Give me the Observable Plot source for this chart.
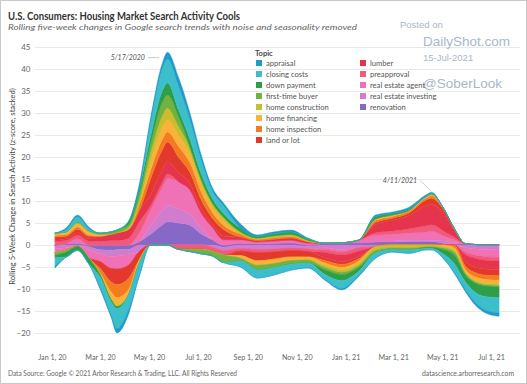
<!DOCTYPE html>
<html><head><meta charset="utf-8">
<script src="https://cdn.jsdelivr.net/npm/d3@7"></script>
<script src="https://cdn.jsdelivr.net/npm/@observablehq/plot@0.6"></script>
<style>
html,body{margin:0;padding:0;background:#fff;}
#wrap{position:relative;width:527px;height:384px;overflow:hidden;font-family:Lato,"Open Sans",sans-serif;}
#chart{position:absolute;left:0;top:0;}
#overlay{position:absolute;left:0;top:0;}
#frame{position:absolute;left:0;top:0;width:525px;height:382px;border:1px solid #c9c9c9;pointer-events:none;}
</style></head><body>
<div id="wrap">
<div id="chart"></div>
<svg id="overlay" width="527" height="384"></svg>
<div id="frame"></div>
</div>
<script>
// ---- data ----
const dates = ["2020-01-05","2020-01-19","2020-02-02","2020-02-16","2020-03-01","2020-03-15","2020-03-22","2020-04-05","2020-04-19","2020-05-03","2020-05-17","2020-05-24","2020-06-07","2020-06-21","2020-07-05","2020-07-19","2020-08-02","2020-08-23","2020-09-13","2020-10-04","2020-10-25","2020-11-15","2020-12-06","2020-12-27","2021-01-17","2021-02-07","2021-02-28","2021-03-21","2021-04-11","2021-04-18","2021-05-02","2021-05-16","2021-05-30","2021-06-13","2021-06-27","2021-07-11"];
const topics = ["appraisal","closing costs","down payment","first-time buyer","home construction","home financing","home inspection","land or lot","lumber","preapproval","real estate agent","real estate investing","renovation"];
const topicColors = ["#1f9ac9","#3cbfcb","#2e9f48","#74b23e","#cbbd2c","#fbb13a","#f47b20","#e2392c","#e6344f","#f15a7d","#ef72b6","#d07ccf","#8668c6"];
const appraisal = [-0.5,0.4,0.4,0.4,-0.5,-0.6,-1.0,-1.0,1.0,1.0,1.2,1.5,1.9,1.5,1.1,0.7,0.6,1.0,0.3,0.4,0.4,0.2,-0.2,-0.3,-0.3,0.3,0.3,0.4,0.3,0.3,-0.2,-0.2,-0.5,-0.6,-0.7,-0.8];
const closingCosts = [-1.8,0.5,1.1,0.4,-2.2,-3.0,-4.5,-3.5,-2.9,3.2,5.0,5.5,5.5,4.5,3.2,1.8,1.8,-1.4,-1.9,-1.7,-1.4,-1.1,-1.1,-1.8,-0.9,-1.2,-0.6,-0.8,-0.3,-0.3,-0.8,-2.0,-1.7,-2.4,-3.2,-3.4];
const downPayment = [-0.6,-1.1,-0.9,-1.3,-0.6,-0.5,-0.5,0.7,1.3,1.8,2.6,2.7,1.5,1.8,1.3,1.0,0.8,0.8,0.4,0.5,0.6,0.3,-1.1,-1.4,-0.9,0.6,0.4,0.3,-0.3,-0.3,-1.0,-2.0,-1.6,-2.2,-2.4,-2.5];
const firstTimeBuyer = [-0.5,-0.4,0.3,0.2,0.3,0.5,0.6,0.6,1.2,2.0,3.0,3.0,2.2,-0.5,-1.0,-1.0,-1.7,-0.6,-1.0,-0.9,-0.8,-0.7,-0.5,-0.5,-0.4,-0.6,-0.4,-0.4,0.2,0.3,-0.3,-0.6,-0.3,-0.3,-0.3,-0.3];
const homeConstruction = [0.2,0.2,0.3,0.3,-0.4,-0.5,-0.5,0.4,1.2,2.0,2.7,2.7,2.0,1.5,1.2,0.9,0.8,0.5,0.3,0.4,0.4,0.2,-0.5,-0.6,-0.5,-0.8,-0.6,-0.7,-0.5,-0.5,-0.4,-0.5,-0.3,-0.3,-0.3,-0.3];
const homeFinancing = [0.3,0.4,0.6,0.5,0.4,-1.3,-1.5,-1.2,-0.8,2.0,2.7,2.7,2.5,2.0,1.6,1.2,1.0,-0.6,-1.0,-1.0,-0.8,-0.7,-0.5,-0.5,-0.5,0.3,0.3,0.2,0.2,0.2,-0.3,-0.5,-0.6,-0.8,-0.9,-0.9];
const homeInspection = [0.4,0.4,0.5,0.3,-1.0,-2.3,-3.0,-2.6,1.5,2.0,2.4,2.3,2.5,2.2,1.8,1.3,1.0,0.7,0.3,0.4,0.4,0.2,-0.6,-0.7,-0.6,0.5,0.4,0.4,0.5,0.6,0.3,-0.6,-0.8,-1.0,-1.0,-1.0];
const landOrLot = [0.7,0.6,0.8,0.5,-1.5,-3.0,-3.5,-3.0,-1.8,3.5,4.5,4.5,3.5,2.5,2.0,1.5,1.5,-1.0,-1.8,-1.6,-1.4,-1.2,-0.6,-0.6,-0.5,0.5,0.5,0.6,1.2,1.4,0.9,0.5,-1.0,-1.3,-1.4,-1.4];
const lumber = [0.3,0.4,0.6,0.6,1.2,1.5,1.8,2.0,2.5,2.5,2.8,2.7,2.0,1.5,1.0,0.6,0.8,0.6,0.3,0.4,0.5,0.3,-1.2,-1.5,-1.2,1.8,2.4,3.0,4.6,4.6,4.1,1.5,-1.6,-2.0,-2.0,-2.0];
const preapproval = [0.8,0.7,0.8,0.9,0.8,1.0,1.0,1.5,2.5,1.0,1.2,1.1,-1.0,-1.0,-1.0,-1.0,-1.0,-0.6,-0.8,-0.7,-0.6,-0.6,-0.7,-0.8,-0.8,0.6,0.8,1.0,1.5,1.5,1.2,0.6,-0.6,-0.7,-0.8,-0.8];
const realEstateAgent = [-1.0,-0.6,1.0,-2.0,-1.8,-2.8,-3.0,-2.5,2.0,3.5,5.2,6.0,6.2,5.5,3.3,2.8,1.2,0.8,0.4,0.5,0.6,0.4,-0.4,-0.5,0.6,1.5,1.5,1.6,1.8,2.0,1.2,0.6,-1.0,-1.5,-1.7,-1.8];
const realEstateInvesting = [-0.5,-0.6,-0.3,-0.6,-0.9,-1.4,-1.5,-1.2,-1.5,2.0,3.2,3.8,3.2,2.5,1.5,-0.5,-0.8,-0.8,-1.0,-0.9,-0.7,-0.6,-0.6,-1.0,-0.6,-0.4,0.2,0.3,0.3,0.3,0.5,0.4,-0.6,-0.9,-1.0,-1.0];
const renovation = [-0.3,0.3,0.4,-0.4,-1.1,-1.2,-1.0,-1.0,0.8,2.5,4.5,5.3,5.0,4.5,2.5,1.2,-0.5,0.4,0.3,0.4,0.5,-0.3,0.4,0.5,0.5,0.7,0.7,0.8,0.8,0.8,0.4,0.2,0.3,0.1,0.1,0.1];
const yTicks = [-20,-15,-10,-5,0,5,10,15,20,25,30,35,40,45];
const xTickDates = ["2020-01-01","2020-03-01","2020-05-01","2020-07-01","2020-09-01","2020-11-01","2021-01-01","2021-03-01","2021-05-01","2021-07-01"];
const annLabels = ["5/17/2020","4/11/2021"];
const annPeakDates = ["2020-05-13","2021-04-16"];
const annPeakValues = [42.7,12.5];
const annLabelDates = ["2020-04-29","2021-04-03"];
const annLabelValues = [42.7,14.8];
const yLabel = "Rolling 5-Week Change in Search Activity (z-score, stacked)";

// ---- build stacked table (positive and negative parts stacked separately) ----
const seriesList = [appraisal,closingCosts,downPayment,firstTimeBuyer,homeConstruction,homeFinancing,homeInspection,landOrLot,lumber,preapproval,realEstateAgent,realEstateInvesting,renovation];
const rows = [];
dates.forEach((ds, i) => {
  const date = new Date(ds);
  let pos = 0, neg = 0;
  for (let k = topics.length - 1; k >= 0; k--) {
    const v = seriesList[k][i];
    const p = Math.max(v, 0), n = Math.min(v, 0);
    rows.push({date, topic: topics[k], key: topics[k] + "+", y1: pos, y2: pos + p});
    pos += p;
    rows.push({date, topic: topics[k], key: topics[k] + "-", y1: neg, y2: neg + n});
    neg += n;
  }
});
const ann = annLabels.map((t, i) => ({label: t, x1: new Date(annLabelDates[i]), y1: annLabelValues[i], x2: new Date(annPeakDates[i]), y2: annPeakValues[i]}));
const fmt = d3.utcFormat("%b %-d, %y");

const chart = Plot.plot({
  width: 527, height: 384,
  marginTop: 47, marginBottom: 51, marginLeft: 35, marginRight: 7,
  style: {fontFamily: "Lato, sans-serif", background: "transparent"},
  x: {type: "utc", domain: [new Date("2019-12-11"), new Date("2021-08-06")]},
  y: {domain: [-20, 45]},
  color: {domain: topics, range: topicColors},
  marks: [
    Plot.gridY(yTicks, {stroke: "#e9e9e9", strokeOpacity: 1, strokeWidth: 1}),
    Plot.areaY(rows, {x: "date", y1: "y1", y2: "y2", z: "key", fill: "topic", stroke: "topic", strokeWidth: 0.4, curve: "monotone-x"}),
    Plot.axisY(yTicks, {tickSize: 0, tickPadding: 5, fontSize: 8, fill: "#666", label: null}),
    Plot.axisX(xTickDates.map(d => new Date(d)), {tickSize: 0, tickPadding: 21, fontSize: 7.2, fill: "#666", tickFormat: fmt, label: null}),
    Plot.text([yLabel], {frameAnchor: "left", textAnchor: "middle", rotate: -90, dx: -23, dy: -4, fontSize: 7.6, fill: "#444"}),
    Plot.link(ann, {x1: "x1", y1: "y1", x2: "x2", y2: "y2", stroke: "#bbb", strokeWidth: 0.8}),
    Plot.text(ann, {x: "x1", y: "y1", text: "label", textAnchor: "end", dx: -3, fontSize: 7, fontStyle: "italic", fill: "#555"})
  ]
});
document.getElementById("chart").appendChild(chart);

// ---- overlay texts: title, subtitle, caption, legend, watermark ----
const ns = "http://www.w3.org/2000/svg";
const ov = document.getElementById("overlay");
function txt(s, attrs) {
  const t = document.createElementNS(ns, "text");
  for (const k in attrs) t.setAttribute(k, attrs[k]);
  t.textContent = s;
  ov.appendChild(t);
  return t;
}
txt("U.S. Consumers: Housing Market Search Activity Cools", {x: 8, y: 19.5, "font-size": 10.5, "font-weight": 700, fill: "#333", "font-family": "Lato", textLength: 232, lengthAdjust: "spacingAndGlyphs"});
txt("Rolling five-week changes in Google search trends with noise and seasonality removed", {x: 8, y: 29.5, "font-size": 8, "font-style": "italic", fill: "#666", "font-family": "Lato", textLength: 349, lengthAdjust: "spacingAndGlyphs"});
txt("Data Source: Google \u00a9 2021 Arbor Research & Trading, LLC. All Rights Reserved", {x: 8, y: 375.5, "font-size": 6.6, fill: "#666", "font-family": "Lato", textLength: 229, lengthAdjust: "spacingAndGlyphs"});
txt("datascience.arborresearch.com", {x: 514, y: 375.5, "font-size": 6.8, fill: "#666", "text-anchor": "end", "font-family": "Lato"});
// watermark
const wm = {fill: "#aab6cc", "font-family": "Liberation Sans, Arial, sans-serif"};
txt("Posted on", Object.assign({x: 400, y: 28, "font-size": 9.5}, wm));
txt("DailyShot.com", Object.assign({x: 423, y: 46, "font-size": 13.5}, wm));
txt("15-Jul-2021", Object.assign({x: 423, y: 61, "font-size": 9.5}, wm));
txt("@SoberLook", Object.assign({x: 423, y: 88, "font-size": 13.5}, wm));
// legend
txt("Topic", {x: 255, y: 55.5, "font-size": 7.5, "font-weight": 700, fill: "#444", "font-family": "Lato"});
topics.forEach((t, i) => {
  const col = i < 8 ? 0 : 1;
  const row = i < 8 ? i : i - 8;
  const x0 = col === 0 ? 256 : 360;
  const cy = 63 + row * 11;
  const r = document.createElementNS(ns, "rect");
  r.setAttribute("x", x0); r.setAttribute("y", cy - 3); r.setAttribute("width", 6); r.setAttribute("height", 6);
  r.setAttribute("fill", topicColors[i]);
  ov.appendChild(r);
  txt(t, {x: x0 + 10, y: cy + 2.7, "font-size": 7.6, fill: "#555", "font-family": "Lato"});
});
</script>
</body></html>
